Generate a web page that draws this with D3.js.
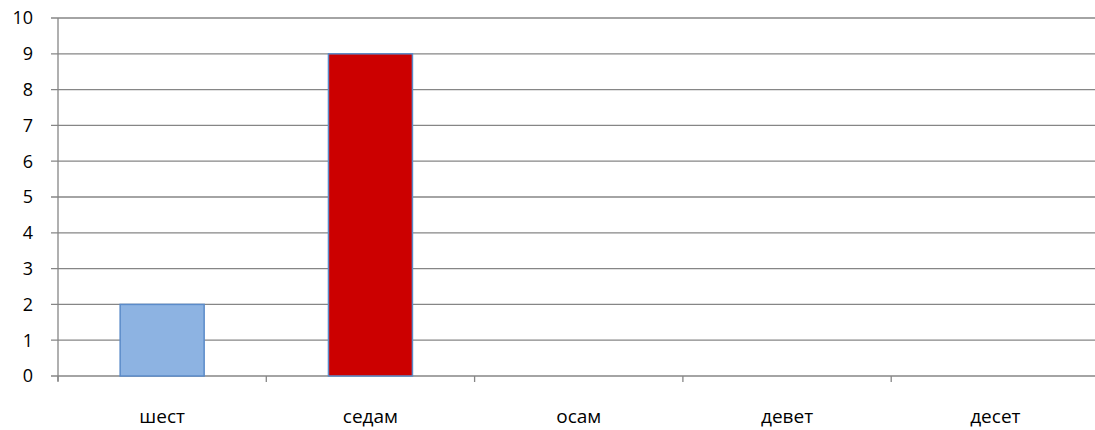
<!DOCTYPE html>
<html><head><meta charset="utf-8">
<script src="https://cdn.jsdelivr.net/npm/d3@7"></script>
<style>body{margin:0;background:#fff;} svg{display:block;}</style>
</head><body>
<svg id="chart" width="1095" height="430"></svg>
<script>
const categories = ["шест", "седам", "осам", "девет", "десет"];
const values = [2, 9, 0, 0, 0];
const barColors = ["#8DB3E2", "#CC0000", "#8DB3E2", "#8DB3E2", "#8DB3E2"];
const yTicks = [0,1,2,3,4,5,6,7,8,9,10];

(function(){
const svg = d3.select("#chart");
const mLeft = 58, mRight = 1099.5, mTop = 18, mBottom = 376;
const x = d3.scaleBand().domain(categories).range([mLeft, mRight]).paddingInner(0).paddingOuter(0);
const y = d3.scaleLinear().domain([0, 10]).range([mBottom, mTop]);
const font = "'Open Sans', 'DejaVu Sans', sans-serif";

svg.append("g").selectAll("line").data(yTicks).join("line")
  .attr("x1", mLeft - 7).attr("x2", 1095)
  .attr("y1", d => y(d)).attr("y2", d => y(d))
  .attr("stroke", "#868686").attr("stroke-width", 1.3);

svg.append("line").attr("x1", mLeft).attr("x2", mLeft).attr("y1", mTop).attr("y2", mBottom + 5)
  .attr("stroke", "#868686").attr("stroke-width", 1.3);

svg.append("g").selectAll("text").data(yTicks).join("text")
  .attr("x", 33).attr("y", d => y(d)).attr("dy", "0.36em")
  .attr("text-anchor", "end").attr("font-family", font).attr("font-size", 18)
  .attr("fill", "#000").text(d => d);

const xt = categories.map(c => x(c)).concat([mRight]);
svg.append("g").selectAll("line").data(xt).join("line")
  .attr("x1", d => d).attr("x2", d => d).attr("y1", mBottom).attr("y2", mBottom + 6)
  .attr("stroke", "#868686").attr("stroke-width", 1.3);

const bw = 84;
svg.append("g").selectAll("rect").data(values.map((v,i)=>({c:categories[i], v, col:barColors[i]})).filter(d=>d.v>0)).join("rect")
  .attr("x", d => x(d.c) + x.bandwidth()/2 - bw/2)
  .attr("width", bw)
  .attr("y", d => y(d.v))
  .attr("height", d => y(0) - y(d.v))
  .attr("fill", d => d.col)
  .attr("stroke", "#5B8BC9").attr("stroke-width", 1.5);

svg.append("g").selectAll("text").data(categories).join("text")
  .attr("x", d => x(d) + x.bandwidth()/2).attr("y", 423)
  .attr("text-anchor", "middle").attr("font-family", font).attr("font-size", 19)
  .attr("fill", "#000").text(d => d);
})();
</script>
</body></html>
